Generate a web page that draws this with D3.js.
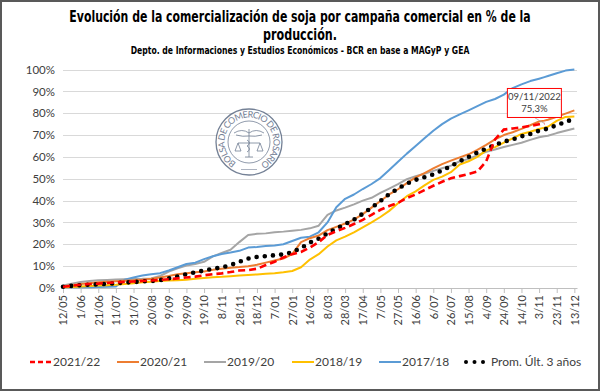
<!DOCTYPE html>
<html>
<head>
<meta charset="utf-8">
<script src="https://cdn.jsdelivr.net/npm/d3@7"></script>
<style>
  body { margin: 0; background: #fff; }
  svg { display: block; }
</style>
</head>
<body>
<svg id="chart" width="600" height="391"></svg>
<script>
// fechas cada 10 días (más el dato del 09/11/2022)
const dates = [
  '2021-05-12', '2021-05-22', '2021-06-01', '2021-06-11', '2021-06-21', '2021-07-01', '2021-07-11', '2021-07-21', '2021-07-31', '2021-08-10',
  '2021-08-20', '2021-08-30', '2021-09-09', '2021-09-19', '2021-09-29', '2021-10-09', '2021-10-19', '2021-10-29', '2021-11-08', '2021-11-18',
  '2021-11-28', '2021-12-08', '2021-12-18', '2021-12-28', '2022-01-07', '2022-01-17', '2022-01-27', '2022-02-06', '2022-02-16', '2022-02-26',
  '2022-03-08', '2022-03-18', '2022-03-28', '2022-04-07', '2022-04-17', '2022-04-27', '2022-05-07', '2022-05-17', '2022-05-27', '2022-06-06',
  '2022-06-16', '2022-06-26', '2022-07-06', '2022-07-16', '2022-07-26', '2022-08-05', '2022-08-15', '2022-08-25', '2022-09-04', '2022-09-14',
  '2022-09-24', '2022-10-04', '2022-10-14', '2022-10-24', '2022-11-03', '2022-11-09', '2022-11-13', '2022-11-23', '2022-12-03', '2022-12-13',
];

const c2122 = [
  0.6, 1.0, 1.5, 1.8, 2.0, 2.3, 2.6, 2.8, 3.0, 3.2,
  3.4, 3.7, 4.0, 4.4, 4.8, 5.2, 5.8, 6.3, 6.7, 7.3,
  8.0, 8.2, 8.8, 10.5, 12.0, 14.0, 15.5, 16.5, 18.5, 21.0,
  24.3, 26.0, 27.5, 29.3, 31.2, 33.5, 35.8, 37.5, 39.0, 41.2,
  42.8, 44.8, 46.8, 48.6, 50.2, 51.2, 52.2, 53.3, 58.0, 68.0,
  72.5, 73.0, 73.5, 74.2, 74.9, 75.3, null, null, null, null,
];
const c2021 = [
  0.8, 1.3, 1.8, 2.2, 2.6, 2.9, 3.1, 3.3, 3.5, 3.8,
  4.2, 4.8, 5.5, 6.3, 6.8, 7.2, 7.6, 8.3, 8.8, 9.3,
  9.6, 10.0, 10.6, 11.6, 12.6, 13.5, 15.5, 21.0, 22.8, 24.0,
  26.5, 28.0, 29.5, 31.3, 33.8, 36.8, 39.8, 42.8, 45.2, 48.0,
  50.6, 52.6, 54.7, 56.7, 58.3, 59.8, 61.2, 63.2, 65.5, 68.0,
  70.0, 71.3, 72.8, 74.5, 76.2, 76.6, 77.0, 78.4, 79.8, 81.3,
];
const c1920 = [
  1.2, 2.0, 2.8, 3.2, 3.5, 3.7, 3.9, 4.0, 4.1, 4.2,
  4.4, 5.5, 7.5, 9.0, 10.3, 11.0, 12.0, 14.5, 16.0, 17.5,
  21.0, 24.3, 24.8, 25.0, 25.5, 25.8, 26.2, 26.6, 27.3, 28.5,
  33.5, 35.5, 36.8, 38.3, 40.0, 41.3, 43.5, 45.5, 47.5, 49.8,
  51.2, 52.3, 53.6, 54.8, 56.0, 58.0, 59.0, 60.8, 62.3, 63.4,
  64.5, 65.5, 66.5, 67.8, 69.0, 69.4, 69.7, 70.9, 72.0, 73.0,
];
const c1819 = [
  0.3, 0.5, 0.7, 0.9, 1.1, 1.3, 1.5, 1.8, 2.2, 2.6,
  2.9, 3.2, 3.4, 3.6, 3.8, 4.2, 4.6, 4.9, 5.1, 5.4,
  5.7, 6.0, 6.2, 6.5, 6.8, 7.2, 7.8, 9.5, 13.0, 15.5,
  19.0, 21.8, 23.5, 25.5, 27.8, 30.0, 32.5, 35.3, 38.8, 42.0,
  44.2, 47.0, 49.5, 51.0, 53.0, 56.5, 58.0, 60.0, 63.0, 64.5,
  66.5, 68.5, 70.5, 71.5, 72.8, 73.4, 73.8, 76.5, 78.3, 78.5,
];
const c1718 = [
  0.3, 0.3, 0.3, 0.4, 0.5, 0.6, 0.7, 3.8, 4.8, 5.7,
  6.3, 6.8, 8.0, 9.5, 11.0, 11.6, 13.2, 14.5, 15.6, 16.2,
  17.0, 18.5, 18.8, 19.2, 19.5, 20.0, 21.5, 23.0, 23.5, 25.5,
  30.0, 37.0, 40.8, 42.8, 45.3, 47.6, 50.3, 54.0, 57.8, 61.5,
  65.0, 68.5, 72.0, 75.0, 77.5, 79.5, 81.3, 83.2, 85.2, 86.5,
  88.5, 91.5, 93.2, 94.7, 95.8, 96.5, 97.0, 98.3, 99.5, 100,
];
const prom3 = [
  0.6, 1.0, 1.3, 1.5, 1.7, 1.9, 2.2, 2.5, 2.7, 3.0,
  3.2, 3.6, 4.4, 5.3, 6.3, 7.2, 8.0, 8.8, 9.4, 10.5,
  12.0, 13.5, 14.2, 14.6, 15.0, 15.4, 16.4, 18.3, 20.8, 22.6,
  25.0, 27.2, 29.2, 31.3, 34.0, 36.8, 39.8, 43.0, 45.5, 47.8,
  49.5, 50.7, 52.0, 53.8, 55.8, 58.0, 60.0, 62.0, 63.8, 65.5,
  67.0, 68.0, 69.4, 70.5, 72.0, 72.5, 73.0, 74.5, 76.0, 77.5,
];

const tickDates = [
  '2021-05-12', '2021-06-01', '2021-06-21', '2021-07-11', '2021-07-31', '2021-08-20', '2021-09-09', '2021-09-29', '2021-10-19', '2021-11-08',
  '2021-11-28', '2021-12-18', '2022-01-07', '2022-01-27', '2022-02-16', '2022-03-08', '2022-03-28', '2022-04-17', '2022-05-07', '2022-05-27',
  '2022-06-16', '2022-07-06', '2022-07-26', '2022-08-15', '2022-09-04', '2022-09-24', '2022-10-14', '2022-11-03', '2022-11-23', '2022-12-13',
];
const yTicks = [0, 10, 20, 30, 40, 50, 60, 70, 80, 90, 100];

const series = [
  { name: '2019/20', values: c1920, color: '#A5A5A5' },
  { name: '2017/18', values: c1718, color: '#5B9BD5' },
  { name: '2018/19', values: c1819, color: '#FFC000' },
  { name: '2020/21', values: c2021, color: '#ED7D31' },
  { name: 'Prom. Últ. 3 años', values: prom3, color: '#000', dots: true },
  { name: '2021/22', values: c2122, color: '#FF0000', dashed: true },
];
const legendOrder = ['2021/22', '2020/21', '2019/20', '2018/19', '2017/18', 'Prom. Últ. 3 años'];

const parse = d3.timeParse('%Y-%m-%d');
const fmt = d3.timeFormat('%-d/%m');
const font = 'Lato, "Open Sans", sans-serif';
const narrow = '"Liberation Sans Narrow", "DejaVu Sans Condensed", "Roboto", sans-serif';

const svg = d3.select('#chart');

// marco
svg.append('rect')
  .attr('x', 1).attr('y', 1).attr('width', 598).attr('height', 389)
  .attr('fill', '#fff').attr('stroke', '#595959').attr('stroke-width', 2);

const x = d3.scaleTime()
  .domain([parse('2021-05-12'), parse('2022-12-16')])
  .range([63, 577]);
const y = d3.scaleLinear().domain([0, 100]).range([288, 69.5]);

// titulos: texto angosto, escalado en x hasta el ancho del original
function squeezed(str, cy, size, width) {
  const g = svg.append('g');
  const t = g.append('text')
    .attr('font-family', narrow).attr('font-weight', 'bold').attr('font-size', size)
    .attr('fill', '#000').attr('text-anchor', 'middle')
    .attr('x', 0).attr('y', 0)
    .text(str);
  const w = t.node().getComputedTextLength();
  g.attr('transform', `translate(300,${cy}) scale(${width / w},1)`);
}
squeezed('Evolución de la comercialización de soja por campaña comercial en % de la', 22, 15, 462);
squeezed('producción.', 40, 15, 74);
squeezed('Depto. de Informaciones y Estudios Económicos - BCR en base a MAGyP y GEA', 54, 10.5, 339);

// grilla
svg.append('g')
  .selectAll('line')
  .data(yTicks.slice(1))
  .enter()
  .append('line')
  .attr('x1', 63).attr('x2', 577)
  .attr('y1', d => Math.round(y(d)) + 0.5).attr('y2', d => Math.round(y(d)) + 0.5)
  .attr('stroke', '#d9d9d9').attr('stroke-width', 1);

// sello de fondo
const seal = svg.append('g').attr('transform', 'translate(249,142)').attr('opacity', 0.8);
seal.append('circle').attr('r', 33).attr('fill', '#fff').attr('stroke', '#52627c').attr('stroke-width', 1.3);
seal.append('circle').attr('r', 21).attr('fill', 'none').attr('stroke', '#52627c').attr('stroke-width', 0.8);
const arcPath = d3.path();
arcPath.arc(0, 0, 24.5, Math.PI / 2 + 0.55, Math.PI / 2 + 2 * Math.PI - 0.55);
seal.append('path').attr('id', 'sealArc')
  .attr('d', arcPath.toString())
  .attr('fill', 'none');
seal.append('text')
  .attr('font-family', font).attr('font-size', 9).attr('fill', '#52627c')
  .append('textPath').attr('href', '#sealArc').attr('startOffset', 0)
  .attr('textLength', 128).attr('lengthAdjust', 'spacing')
  .text('BOLSA DE COMERCIO DE ROSARIO');
seal.append('path').attr('d', 'M-15,-9 Q-7,-14 0,-9 Q7,-14 15,-9 M-13,-7 Q-6,-5 0,-6 Q6,-5 13,-7 M0,-13 L0,15 M-2,-2 Q3,1 -2,4 Q3,7 -2,10 M-11,1 L11,1 M-11,1 L-14,9 L-8,9 Z M11,1 L8,9 L14,9 Z M-4,15 L4,15')
  .attr('fill', 'none').attr('stroke', '#52627c').attr('stroke-width', 0.8);
seal.append('line').attr('x1', -8).attr('x2', 8).attr('y1', 27.5).attr('y2', 27.5)
  .attr('stroke', '#52627c').attr('stroke-width', 0.6);

// ejes
const xAxis = svg.append('g')
  .attr('transform', 'translate(0,288)')
  .call(d3.axisBottom(x).tickValues(tickDates.map(parse)).tickFormat(fmt).tickSize(5).tickSizeOuter(0));
xAxis.select('.domain').attr('stroke', '#bfbfbf');
xAxis.selectAll('.tick line').attr('stroke', '#bfbfbf');
xAxis.selectAll('.tick text')
  .attr('font-family', font).attr('font-size', 11).attr('fill', '#404040')
  .attr('transform', 'rotate(-90)')
  .attr('text-anchor', 'end')
  .attr('x', -7).attr('y', 0).attr('dy', '0.35em');

const yAxis = svg.append('g')
  .attr('transform', 'translate(55,0)')
  .call(d3.axisLeft(y).tickValues(yTicks).tickFormat(d => `${d}%`).tickSize(0));
yAxis.select('.domain').remove();
yAxis.selectAll('.tick text')
  .attr('font-family', font).attr('font-size', 11.5).attr('fill', '#404040').attr('x', 0);

// series
const line = d3.line()
  .defined(d => d[1] !== null)
  .x(d => x(d[0]))
  .y(d => y(d[1]));

series.forEach((s) => {
  const pts = dates.map((d, i) => [parse(d), s.values[i]]);
  const path = svg.append('path')
    .datum(pts)
    .attr('fill', 'none')
    .attr('stroke', s.color)
    .attr('d', line);
  if (s.dots) {
    path.attr('stroke-width', 4.6).attr('stroke-linecap', 'round').attr('stroke-dasharray', '0 8.2');
  } else if (s.dashed) {
    path.attr('stroke-width', 2.6).attr('stroke-dasharray', '7 4');
  } else {
    path.attr('stroke-width', 2).attr('stroke-linejoin', 'round');
  }
});

// anotacion
const lastIdx = c2122.findIndex(v => v === null) - 1;
const px = x(parse(dates[lastIdx]));
const py = y(c2122[lastIdx]);
svg.append('line')
  .attr('x1', px - 10).attr('y1', py - 6).attr('x2', px).attr('y2', py)
  .attr('stroke', '#a6a6a6').attr('stroke-width', 0.8);
svg.append('rect')
  .attr('x', px - 37).attr('y', py - 35).attr('width', 54).attr('height', 29)
  .attr('fill', '#fff').attr('stroke', '#FF0000').attr('stroke-width', 1);
const ann = svg.append('text').attr('font-family', font).attr('font-size', 9.5)
  .attr('fill', '#404040').attr('text-anchor', 'middle');
ann.append('tspan').attr('x', px - 10).attr('y', py - 23).text(d3.timeFormat('%d/%m/%Y')(parse(dates[lastIdx])));
ann.append('tspan').attr('x', px - 10).attr('y', py - 11).text(`${d3.format('.1f')(c2122[lastIdx]).replace('.', ',')}%`);

// leyenda
const legendX = [30, 117, 204, 292, 379, 466];
const legend = svg.append('g').attr('transform', 'translate(0,362)');
legendOrder.forEach((name, i) => {
  const s = series.find(d => d.name === name);
  const g = legend.append('g').attr('transform', `translate(${legendX[i]},0)`);
  if (s.dots) {
    g.selectAll('circle').data([0, 8.5, 17]).enter().append('circle')
      .attr('cx', d => d).attr('cy', 0).attr('r', 2).attr('fill', '#000');
    g.append('text').attr('x', 25).attr('y', 0).attr('dy', '0.35em')
      .attr('font-family', font).attr('font-size', 12).attr('fill', '#404040').text(name);
  } else {
    g.append('line').attr('x1', 0).attr('x2', 22).attr('y1', 0).attr('y2', 0)
      .attr('stroke', s.color).attr('stroke-width', s.dashed ? 2.6 : 2)
      .attr('stroke-dasharray', s.dashed ? '5 3' : null);
    g.append('text').attr('x', 23).attr('y', 0).attr('dy', '0.35em')
      .attr('font-family', font).attr('font-size', 12).attr('fill', '#404040').text(name);
  }
});
</script>
</body>
</html>
